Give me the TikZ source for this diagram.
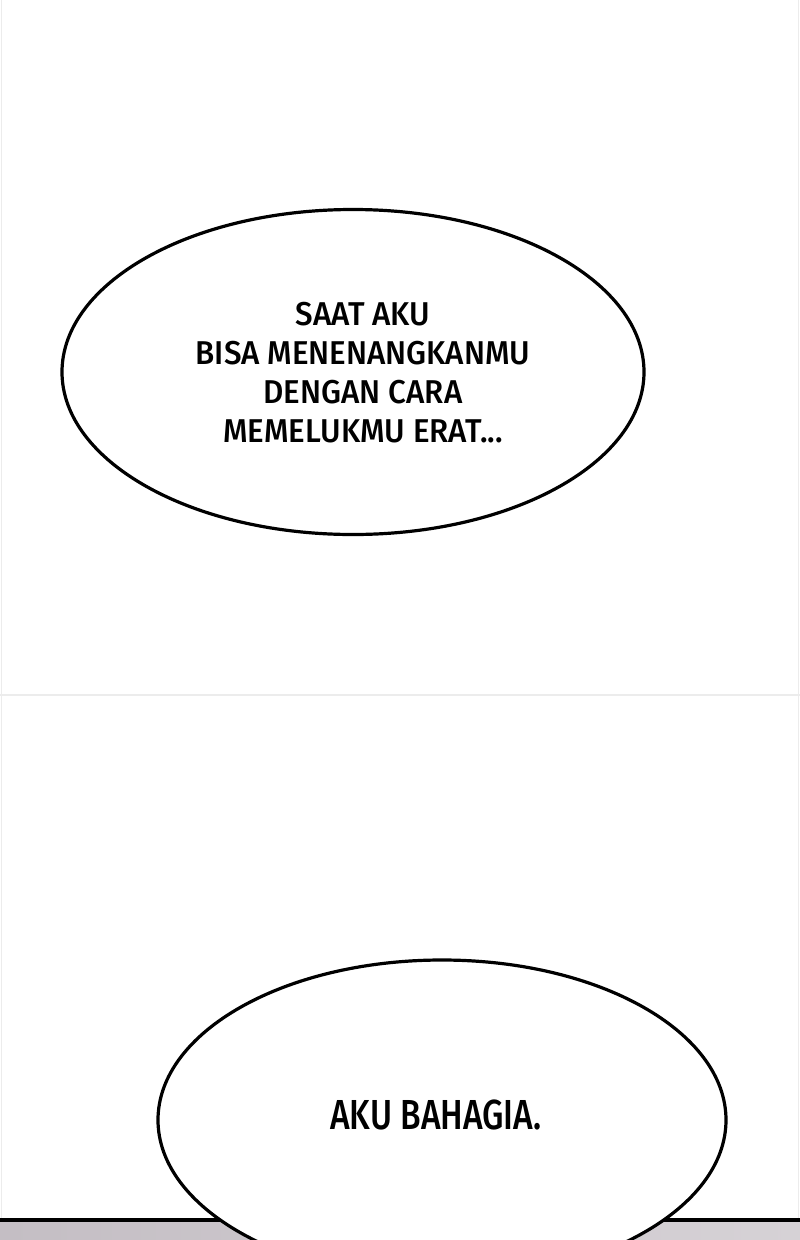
\documentclass[tikz,border=0pt]{standalone}
\usepackage{fontspec}
\setmainfont{Fira Sans}[UprightFont={* Medium}]
\usetikzlibrary{shapes.geometric}
\definecolor{floorgray}{RGB}{196,190,196}
\definecolor{floorlight}{RGB}{214,210,214}
\definecolor{gutter}{RGB}{236,236,236}
\begin{document}
\begin{tikzpicture}[x=1pt,y=-1pt,
    bubble/.style={draw,ellipse,fill=white,line width=3.2pt,inner sep=0pt},
    words/.style={align=center,font=\fontsize{33}{39}\selectfont\addfontfeature{FakeStretch=0.95}},
    bigwords/.style={align=center,font=\fontsize{42}{48}\selectfont\addfontfeature{FakeStretch=0.8}}]
    \useasboundingbox (0,0) rectangle (800,1240);
    \clip (0,0) rectangle (800,1240);
    \fill[white] (0,0) rectangle (800,1240);
    % panel edges
    \draw[gutter,line width=1pt] (1,0)--(1,1218) (798,0)--(798,1218);
    \draw[gutter,line width=1.2pt] (0,695)--(800,695);
    % floor strip at the bottom
    \shade[left color=floorgray,right color=floorlight] (0,1220) rectangle (800,1240);
    \draw[line width=3.5pt] (0,1220)--(800,1220);
    % first bubble
    \node[bubble,minimum width=582pt,minimum height=325pt] (b1) at (353,372) {};
    \node[words] (t1) at (363,373) {SAAT AKU\\BISA MENENANGKANMU\\DENGAN CARA\\MEMELUKMU ERAT...};
    % second bubble
    \node[bubble,minimum width=568pt,minimum height=320pt] (b2) at (442,1120) {};
    \node[bigwords] (t2) at (436,1115) {AKU BAHAGIA.};
  \end{tikzpicture}
\end{document}
